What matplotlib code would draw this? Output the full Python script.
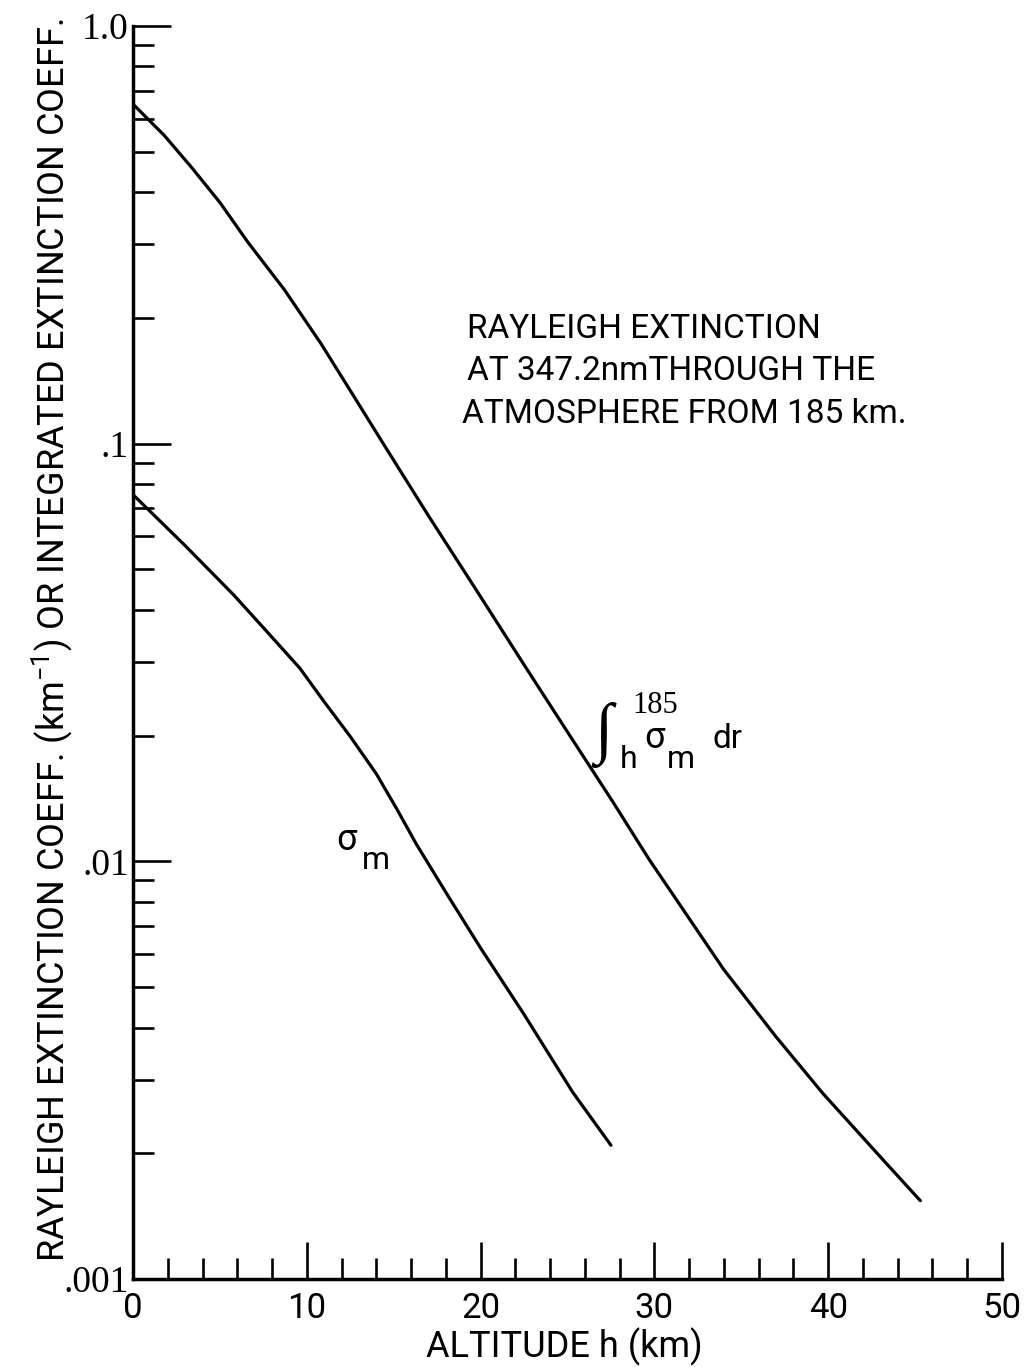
import matplotlib
matplotlib.use("Agg")
import matplotlib.pyplot as plt
from matplotlib.ticker import FixedLocator, MultipleLocator, LogLocator, NullFormatter, FixedFormatter

# ---- data ----
alt_sigma = [0, 3.0, 5.8, 7.7, 9.6, 11.0, 12.5, 14.0, 15.2, 16.3, 18.1, 20.0, 22.5, 25.3, 27.5]
sigma_m = [0.0755, 0.057, 0.0434, 0.0355, 0.029, 0.0241, 0.0199, 0.0162, 0.0133, 0.0110,
           0.0083, 0.0062, 0.0043, 0.0028, 0.00209]

alt_int = [0, 1.8, 3.4, 5.0, 6.6, 8.7, 10.8, 12.6, 14.4, 17.0, 19.8, 22.4, 25.0, 27.6, 29.7,
           34.0, 37.0, 39.7, 43.2, 45.3]
int_sigma = [0.65, 0.547, 0.457, 0.378, 0.304, 0.234, 0.174, 0.132, 0.1, 0.0672, 0.0443,
             0.0300, 0.0204, 0.0139, 0.0101, 0.0055, 0.0038, 0.00278, 0.00192, 0.00154]

x_major = [0, 10, 20, 30, 40, 50]
x_labels = ["0", "10", "20", "30", "40", "50"]
y_major = [0.001, 0.01, 0.1, 1.0]
y_labels = [".001", ".01", ".1", "1.0"]

SANS = ["Roboto", "DejaVu Sans"]
SERIF = ["Liberation Serif", "DejaVu Serif"]
plt.rcParams["font.family"] = SANS
plt.rcParams["mathtext.fontset"] = "custom"
plt.rcParams["mathtext.rm"] = "Roboto"
plt.rcParams["mathtext.default"] = "regular"

W, H = 1026, 1367
fig = plt.figure(figsize=(W / 100, H / 100), dpi=100)
ax = fig.add_axes([133 / W, 1 - 1279 / H, (1002 - 133) / W, (1279 - 26) / H])

def px(x, y):
    return x / W, 1 - y / H

ax.plot(alt_int, int_sigma, color="black", lw=2.3, solid_capstyle="round",
        solid_joinstyle="round")
ax.plot(alt_sigma, sigma_m, color="black", lw=2.3, solid_capstyle="round",
        solid_joinstyle="round")

ax.set_yscale("log")
ax.set_xlim(0, 50)
ax.set_ylim(0.001, 1.0)

for s in ["top", "right"]:
    ax.spines[s].set_visible(False)
for s in ["left", "bottom"]:
    ax.spines[s].set_linewidth(2.5)

ax.xaxis.set_major_locator(FixedLocator(x_major))
ax.xaxis.set_major_formatter(FixedFormatter(x_labels))
ax.xaxis.set_minor_locator(MultipleLocator(2))
ax.yaxis.set_major_locator(FixedLocator(y_major))
ax.yaxis.set_major_formatter(FixedFormatter(y_labels))
ax.yaxis.set_minor_locator(LogLocator(base=10, subs=[2, 3, 4, 5, 6, 7, 8, 9]))
ax.yaxis.set_minor_formatter(NullFormatter())

ax.tick_params(axis="both", which="major", direction="in", length=27, width=1.9, color="black")
ax.tick_params(axis="both", which="minor", direction="in", length=15, width=1.9, color="black")
ax.tick_params(axis="x", which="major", pad=9, labelsize=25)
ax.tick_params(axis="y", which="major", pad=3, labelsize=27)
for lab in ax.get_yticklabels():
    lab.set_family(SERIF)

fig.text(*px(564, 1347), "ALTITUDE h (km)", ha="center", va="center", fontsize=26)
fig.text(*px(52, 640),
         "RAYLEIGH EXTINCTION COEFF. (km$^{-1}$) OR INTEGRATED EXTINCTION COEFF.",
         ha="center", va="center", rotation=90, fontsize=26)

# annotation block
fig.text(*px(467, 338), "RAYLEIGH EXTINCTION", ha="left", va="baseline", fontsize=24)
fig.text(*px(467, 380), "AT 347.2nmTHROUGH THE", ha="left", va="baseline", fontsize=24)
fig.text(*px(462, 423), "ATMOSPHERE FROM 185 km.", ha="left", va="baseline", fontsize=24)

# sigma_m label
fig.text(*px(336, 850), "σ", ha="left", va="baseline", fontsize=26)
fig.text(*px(362, 869), "m", ha="left", va="baseline", fontsize=23)

# integral label
fig.text(*px(594, 750), "∫", ha="left", va="baseline", fontsize=48, family=SERIF)
fig.text(*px(632, 713), "185", ha="left", va="baseline", fontsize=22, family=SERIF)
fig.text(*px(620, 768), "h", ha="left", va="baseline", fontsize=23)
fig.text(*px(644, 748), "σ", ha="left", va="baseline", fontsize=26)
fig.text(*px(667, 768), "m", ha="left", va="baseline", fontsize=23)
fig.text(*px(712, 748), "dr", ha="left", va="baseline", fontsize=24)

fig.savefig("out.png", dpi=100)
